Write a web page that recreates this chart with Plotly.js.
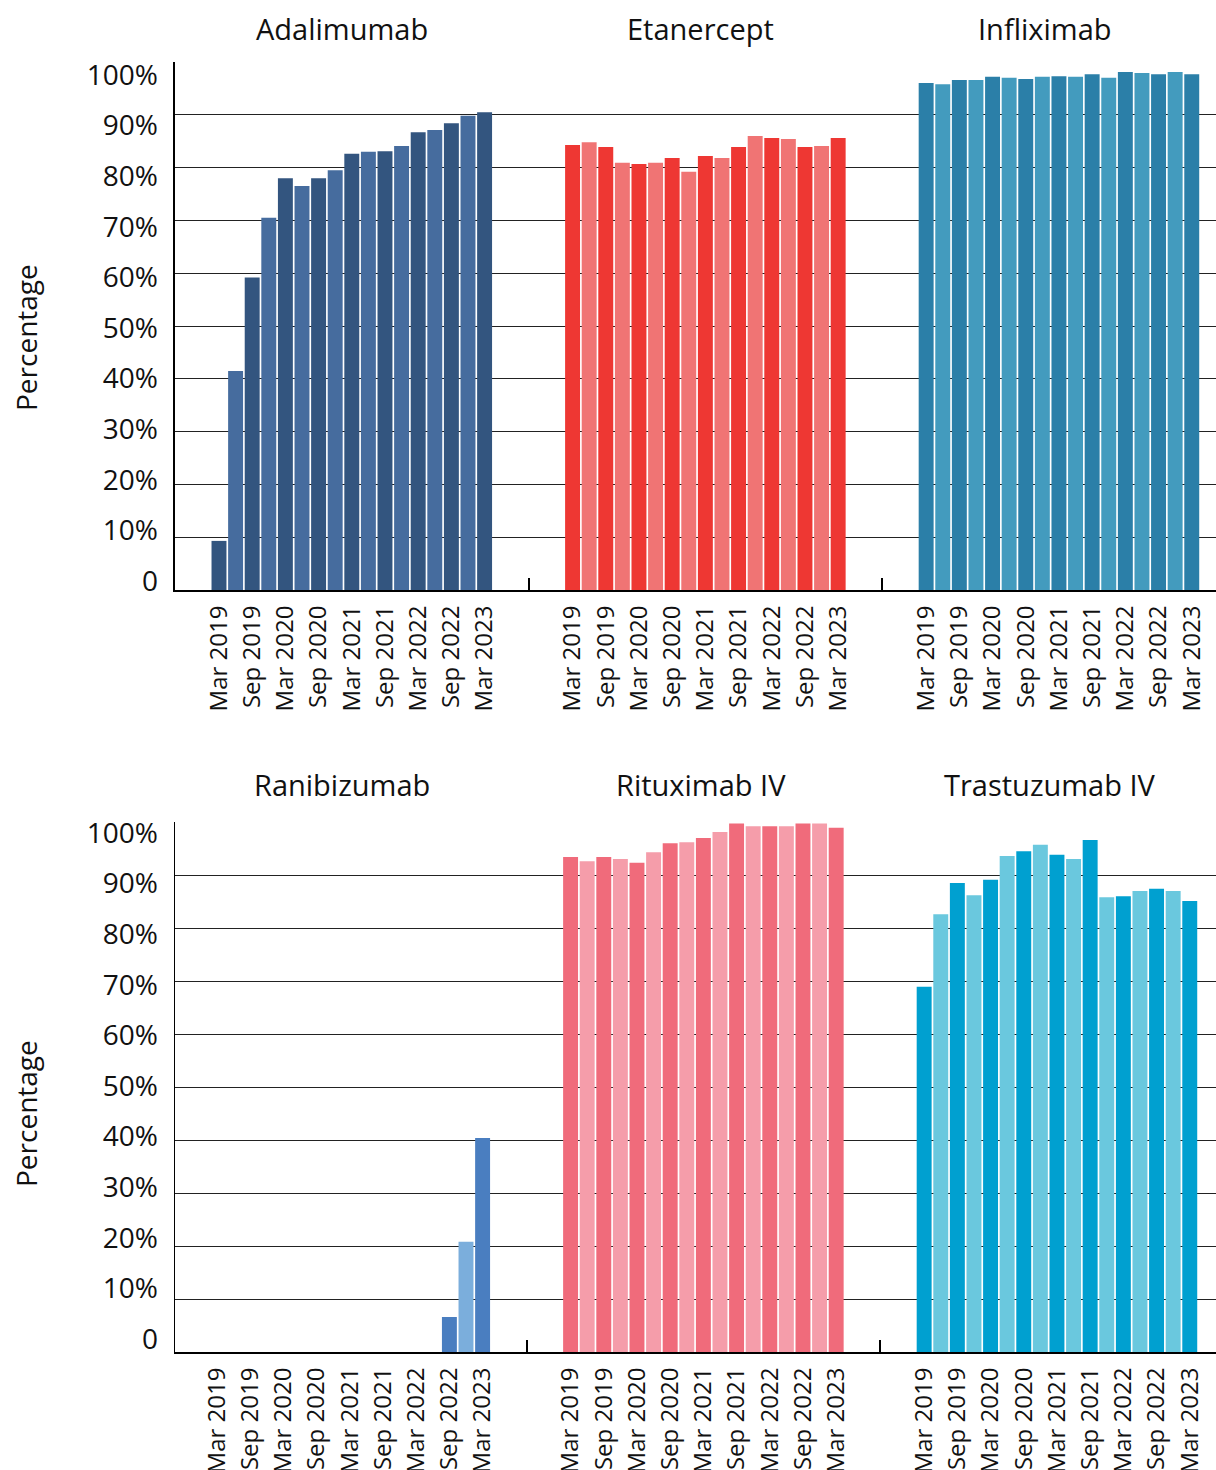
<!DOCTYPE html>
<html><head><meta charset="utf-8">
<script src="https://cdn.plot.ly/plotly-3.0.1.min.js"></script>
<style>html,body{margin:0;padding:0;background:#fff;overflow:hidden}#chart{width:1216px;height:1470px}</style>
</head><body><div id="chart"></div>
<script>
// ---- data ----
const quarters = ["Mar 2019","Jun 2019","Sep 2019","Dec 2019","Mar 2020","Jun 2020","Sep 2020","Dec 2020",
  "Mar 2021","Jun 2021","Sep 2021","Dec 2021","Mar 2022","Jun 2022","Sep 2022","Dec 2022","Mar 2023"];
const tickLabels = ["Mar 2019","Sep 2019","Mar 2020","Sep 2020","Mar 2021","Sep 2021","Mar 2022","Sep 2022","Mar 2023"];
const panelsTop = ["Adalimumab","Etanercept","Infliximab"];
const panelsBottom = ["Ranibizumab","Rituximab IV","Trastuzumab IV"];

const adalimumab  = [9.3,41.5,59.2,70.5,78.0,76.5,78.0,79.5,82.6,83.0,83.1,84.1,86.7,87.1,88.4,89.8,90.5];
const etanercept  = [84.3,84.8,83.9,80.9,80.7,80.9,81.8,79.2,82.2,81.8,83.9,86.0,85.6,85.4,83.9,84.1,85.6];
const infliximab  = [96.0,95.8,96.6,96.6,97.2,97.0,96.8,97.2,97.3,97.2,97.7,97.0,98.1,97.9,97.7,98.1,97.7];
const ranibizumab = [0,0,0,0,0,0,0,0,0,0,0,0,0,0,6.6,20.8,40.4];
const rituximab   = [93.4,92.6,93.4,93.0,92.3,94.3,96.0,96.2,97.0,98.1,99.7,99.2,99.2,99.2,99.7,99.7,98.9];
const trastuzumab = [68.9,82.6,88.5,86.2,89.1,93.6,94.5,95.7,93.8,93.0,96.6,85.8,86.0,87.0,87.4,87.0,85.1];

const yTickVals = [0,10,20,30,40,50,60,70,80,90,100];
const yTickText = ["0","10%","20%","30%","40%","50%","60%","70%","80%","90%","100%"];

// ---- styling ----
const colorsTop = [["#33557F","#466C9E"],["#EE3733","#F07474"],["#2B7FA8","#439BBE"]];
const colorsBottom = [["#4A7EC0","#7BAEDC"],["#F06B7B","#F59DAA"],["#00A0D0","#6AC8DE"]];
const FONT = "Open Sans, Noto Sans, sans-serif";
const GROUP = 21.3, OFFSET = 2.65;

function xpos(g){ return quarters.map((q,i)=> g*GROUP + OFFSET + i); }
function colors(pair){ return quarters.map((q,i)=> pair[i%2]); }

const tickvals = [], ticktext = [];
for (let g=0; g<3; g++){
  quarters.forEach((q,i)=>{
    const k = tickLabels.indexOf(q);
    if (k >= 0){ tickvals.push(g*GROUP + OFFSET + i); ticktext.push(tickLabels[k]); }
  });
}

const seriesTop = [adalimumab, etanercept, infliximab];
const seriesBottom = [ranibizumab, rituximab, trastuzumab];
const data = [];
seriesTop.forEach((s,g)=> data.push({type:'bar', x:xpos(g), y:s, xaxis:'x', yaxis:'y',
  marker:{color:colors(colorsTop[g]), line:{width:0}}, name:panelsTop[g], hoverinfo:'y'}));
seriesBottom.forEach((s,g)=> data.push({type:'bar', x:xpos(g), y:s, xaxis:'x2', yaxis:'y2',
  marker:{color:colors(colorsBottom[g]), line:{width:0}}, name:panelsBottom[g], hoverinfo:'y'}));
// empty helper traces so the label-only overlay axes get drawn
data.push({type:'scatter', mode:'markers', x:[null], y:[null], xaxis:'x', yaxis:'y3', hoverinfo:'skip', showlegend:false});
data.push({type:'scatter', mode:'markers', x:[null], y:[null], xaxis:'x2', yaxis:'y4', hoverinfo:'skip', showlegend:false});

const H = 1470, W = 1216;
const dTop = [(H-590)/H, (H-62)/H];
const dBot = [(H-1352)/H, (H-822)/H];
const xDom = [175/W, 1];
const xEnd = (W-175)/16.6;

function xax(range){ return {domain:xDom, range:range, showgrid:false, zeroline:false,
  showline:true, linecolor:'#000', linewidth:2, tickmode:'array', tickvals:tickvals, ticktext:ticktext,
  tickangle:-90, ticks:'', ticklabelstandoff:4, tickfont:{family:FONT,size:24,color:'#111'}, automargin:false,
  minor:{tickmode:'array', tickvals:[GROUP, 2*GROUP], ticks:'inside', ticklen:12, tickwidth:2, tickcolor:'#000', showgrid:false}}; }
function yax(dom, lw){ return {domain:dom, range:[0,100], tickmode:'array', tickvals:yTickVals, showticklabels:false,
  showgrid:true, gridcolor:'#222', gridwidth:1, zeroline:false, showline:true, linecolor:'#000', linewidth:lw, ticks:'', automargin:false}; }
function ylab(over, anchor, rng){ return {overlaying:over, anchor:anchor, side:'left', range:rng, tickmode:'array',
  tickvals:yTickVals, ticktext:yTickText, showgrid:false, zeroline:false, showline:false, ticks:'',
  ticklabelstandoff:16, tickfont:{family:FONT,size:28,color:'#111'}, automargin:false, fixedrange:true}; }

const annotations = [];
const topCenters = [341.5, 700.5, 1045];
const botCenters = [341.5, 701, 1049.5];
panelsTop.forEach((p,i)=> annotations.push({text:p, xref:'paper', yref:'paper', x:topCenters[i]/W, y:(H-29)/H,
  xanchor:'center', yanchor:'middle', showarrow:false, font:{family:FONT,size:29,color:'#111'}}));
panelsBottom.forEach((p,i)=> annotations.push({text:p, xref:'paper', yref:'paper', x:botCenters[i]/W, y:(H-784)/H,
  xanchor:'center', yanchor:'middle', showarrow:false, font:{family:FONT,size:29,color:'#111'}}));
[338, 1114].forEach((yc)=> annotations.push({text:'Percentage', xref:'paper', yref:'paper', x:26/W, y:(H-yc)/H,
  xanchor:'center', yanchor:'middle', textangle:-90, showarrow:false, font:{family:FONT,size:28,color:'#111'}}));

const layout = {
  width:W, height:H, margin:{l:0,r:0,t:0,b:0}, paper_bgcolor:'#fff', plot_bgcolor:'#fff',
  showlegend:false, barmode:'overlay', bargap:0.1,
  xaxis: Object.assign(xax([0, xEnd]), {anchor:'y'}),
  yaxis: Object.assign(yax(dTop, 2), {anchor:'x'}),
  xaxis2: Object.assign(xax([0.12, xEnd+0.12]), {anchor:'y2'}),
  yaxis2: Object.assign(yax(dBot, 1.5), {anchor:'x2'}),
  yaxis3: ylab('y', 'x', [-1.78, 102.57]),
  yaxis4: ylab('y2', 'x2', [-2.57, 102.17]),
  annotations: annotations
};

Plotly.newPlot('chart', data, layout, {displayModeBar:false, staticPlot:true});
</script></body></html>
